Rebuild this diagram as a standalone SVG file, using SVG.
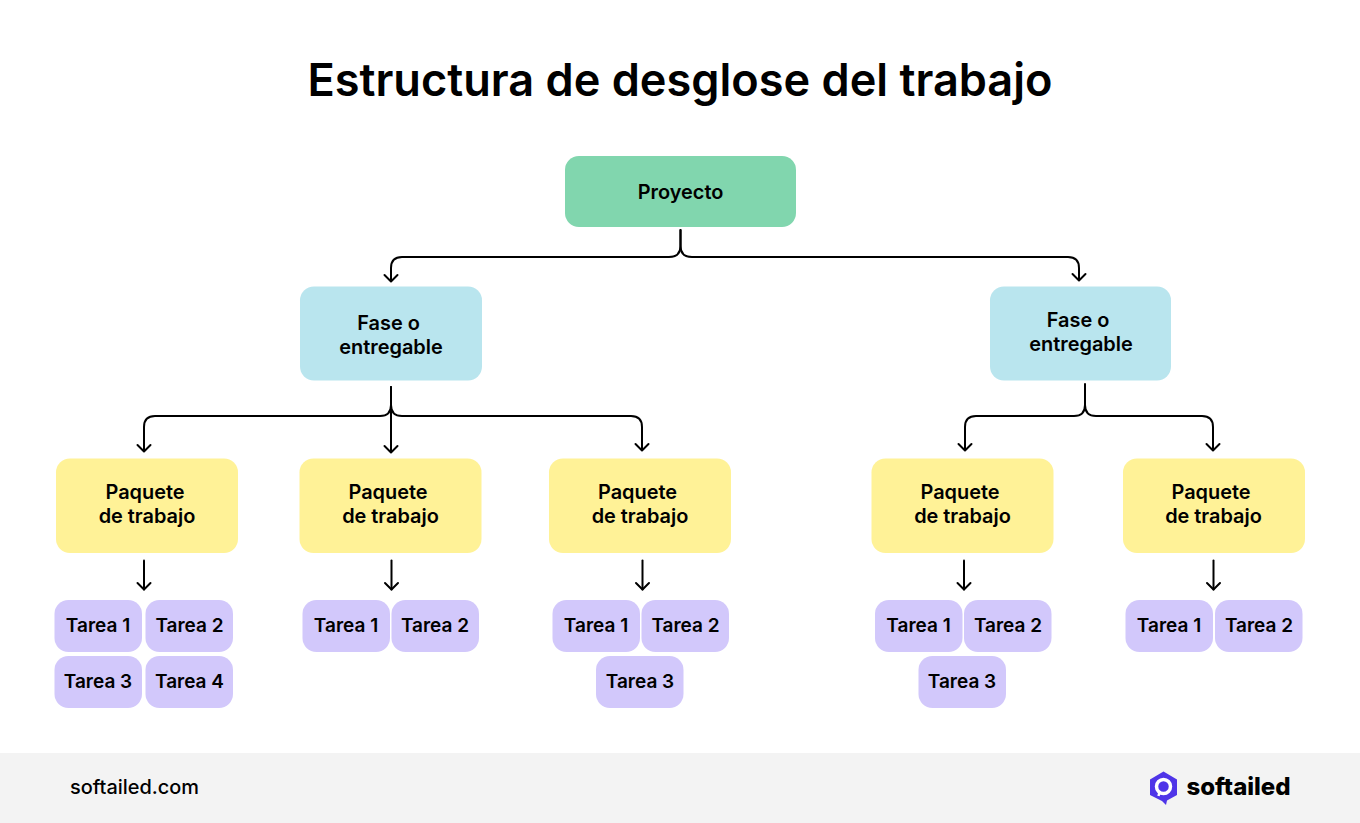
<svg xmlns="http://www.w3.org/2000/svg" width="1360" height="823" viewBox="0 0 1360 823">
<style>
text{font-family:Inter,"Liberation Sans",sans-serif;font-weight:600;fill:#000;text-anchor:middle}
.n{font-size:19.9px}
.t{font-size:19px}
.p{fill:#81d6ae}.f{fill:#b9e5ee}.w{fill:#fff297}.k{fill:#d2c8fb}
.c{fill:none;stroke:#000;stroke-width:2;stroke-linecap:round;stroke-linejoin:round}
</style>
<defs>
<rect id="task" width="87.5" height="52" rx="14"/>
<rect id="pkg" width="182" height="94.500" rx="14"/>
<path id="ah" d="M-6.5 -6.5L0 0L6.5 -6.5" class="c"/>
</defs>
<rect width="1360" height="823" fill="#fff"/>
<text x="680" y="96" style="font-size:45.100px;font-weight:600">Estructura de desglose del trabajo</text>
<g id="connectors">
<path class="c" d="M680.500 230V246Q680.500 257 669 257H402Q391 257 391 268V281"/><use href="#ah" x="391" y="281.500"/>
<path class="c" d="M680.500 230V246Q680.500 257 692 257H1068Q1079 257 1079 268V280"/><use href="#ah" x="1079" y="280.500"/>
<path class="c" d="M391 387V405Q391 416 380 416H155Q144 416 144 427V451"/><use href="#ah" x="144" y="451.500"/>
<path class="c" d="M391 387V452"/><use href="#ah" x="391" y="452.500"/>
<path class="c" d="M391 405Q391 416 402 416H631Q642 416 642 427V450"/><use href="#ah" x="642" y="450.500"/>
<path class="c" d="M1085 384V405Q1085 416 1074 416H976Q965 416 965 427V450"/><use href="#ah" x="965" y="450.500"/>
<path class="c" d="M1085 405Q1085 416 1096 416H1202Q1213 416 1213 427V450"/><use href="#ah" x="1213" y="450.500"/>
<path class="c" d="M144 560.500V589.500"/><use href="#ah" x="144" y="589.500"/>
<path class="c" d="M391.500 560.500V589.500"/><use href="#ah" x="391.500" y="589.500"/>
<path class="c" d="M642.500 560.500V589.500"/><use href="#ah" x="642.500" y="589.500"/>
<path class="c" d="M964 560.500V589.500"/><use href="#ah" x="964" y="589.500"/>
<path class="c" d="M1213.500 560.500V589.500"/><use href="#ah" x="1213.500" y="589.500"/>
</g>
<g id="proyecto"><rect class="p" x="565" y="156" width="231" height="71" rx="14"/><text class="n" x="680.500" y="199">Proyecto</text></g>
<g id="fase1"><rect class="f" x="300" y="286.500" width="182" height="94" rx="14"/><text class="n" x="388.500" y="330">Fase o</text><text class="n" x="391" y="354">entregable</text></g>
<g id="fase2"><rect class="f" x="990" y="286.500" width="181" height="94" rx="14"/><text class="n" x="1078" y="327">Fase o</text><text class="n" x="1081" y="351">entregable</text></g>
<g id="paquete1"><use href="#pkg" class="w" x="56" y="458.500"/><text class="n" x="145" y="499">Paquete</text><text class="n" x="147" y="523">de trabajo</text></g>
<g id="paquete2"><use href="#pkg" class="w" x="299.500" y="458.500"/><text class="n" x="388" y="499">Paquete</text><text class="n" x="390.500" y="523">de trabajo</text></g>
<g id="paquete3"><use href="#pkg" class="w" x="549" y="458.500"/><text class="n" x="637.500" y="499">Paquete</text><text class="n" x="640" y="523">de trabajo</text></g>
<g id="paquete4"><use href="#pkg" class="w" x="871.500" y="458.500"/><text class="n" x="960" y="499">Paquete</text><text class="n" x="962.500" y="523">de trabajo</text></g>
<g id="paquete5"><use href="#pkg" class="w" x="1123" y="458.500"/><text class="n" x="1211" y="499">Paquete</text><text class="n" x="1213.500" y="523">de trabajo</text></g>
<g id="t1-1"><use href="#task" class="k" x="54.500" y="600"/><text class="t" x="98" y="632">Tarea 1</text></g>
<g id="t1-2"><use href="#task" class="k" x="145.500" y="600"/><text class="t" x="189.500" y="632">Tarea 2</text></g>
<g id="t1-3"><use href="#task" class="k" x="54.500" y="656"/><text class="t" x="98" y="687.500">Tarea 3</text></g>
<g id="t1-4"><use href="#task" class="k" x="145.500" y="656"/><text class="t" x="189.500" y="687.500">Tarea 4</text></g>
<g id="t2-1"><use href="#task" class="k" x="302.500" y="600"/><text class="t" x="346" y="632">Tarea 1</text></g>
<g id="t2-2"><use href="#task" class="k" x="391.500" y="600"/><text class="t" x="435" y="632">Tarea 2</text></g>
<g id="t3-1"><use href="#task" class="k" x="552.500" y="600"/><text class="t" x="596" y="632">Tarea 1</text></g>
<g id="t3-2"><use href="#task" class="k" x="641.500" y="600"/><text class="t" x="685.500" y="632">Tarea 2</text></g>
<g id="t3-3"><use href="#task" class="k" x="596" y="656"/><text class="t" x="640" y="687.500">Tarea 3</text></g>
<g id="t4-1"><use href="#task" class="k" x="875" y="600"/><text class="t" x="918.500" y="632">Tarea 1</text></g>
<g id="t4-2"><use href="#task" class="k" x="964" y="600"/><text class="t" x="1008" y="632">Tarea 2</text></g>
<g id="t4-3"><use href="#task" class="k" x="918.500" y="656"/><text class="t" x="962" y="687.500">Tarea 3</text></g>
<g id="t5-1"><use href="#task" class="k" x="1125.500" y="600"/><text class="t" x="1169" y="632">Tarea 1</text></g>
<g id="t5-2"><use href="#task" class="k" x="1215" y="600"/><text class="t" x="1259" y="632">Tarea 2</text></g>
<g id="footer">
<rect x="0" y="753" width="1360" height="70" fill="#f3f3f3"/>
<text x="134.500" y="794" style="font-size:19.900px;font-weight:500">softailed.com</text>
<path d="M1163.500 771.500L1177 779.500V795L1167 800.500L1166 805L1162 801L1150 795V779.500Z" fill="#4f35e8"/>
<circle cx="1163.500" cy="786.500" r="7" fill="none" stroke="#fff" stroke-width="3.500"/>
<path d="M1159.500 792L1158.500 796" stroke="#fff" stroke-width="2.500" fill="none"/>
<text x="1238.500" y="794.500" style="font-size:24px;font-weight:800">softailed</text>
</g>
</svg>
